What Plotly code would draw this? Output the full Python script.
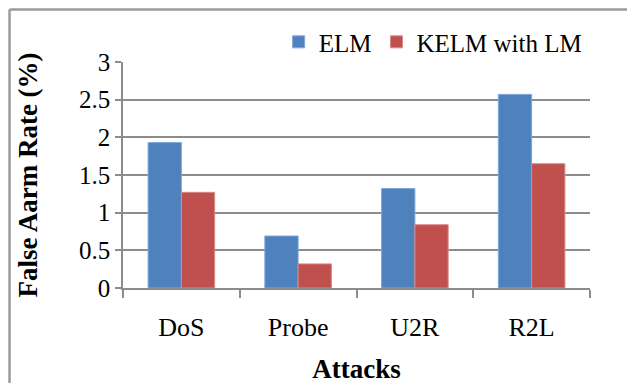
import plotly.graph_objects as go

categories = ["DoS", "Probe", "U2R", "R2L"]
elm = [1.93, 0.69, 1.32, 2.57]
kelm = [1.27, 0.32, 0.84, 1.65]
y_ticks = [0, 0.5, 1, 1.5, 2, 2.5, 3]
y_tick_labels = ["0", "0.5", "1", "1.5", "2", "2.5", "3"]

FONT = "Liberation Serif, Times New Roman, serif"
GRID = "#8c8c8c"

fig = go.Figure()
fig.add_trace(go.Bar(name="ELM", x=categories, y=elm,
                     marker=dict(color="#4F81BD", line=dict(color="#7ea6d8", width=1))))
fig.add_trace(go.Bar(name="KELM with LM", x=categories, y=kelm,
                     marker=dict(color="#C0504D", line=dict(color="#d98a88", width=1))))

fig.update_layout(
    width=635, height=383,
    margin=dict(l=115, r=53, t=54, b=103, autoexpand=False),
    paper_bgcolor="white", plot_bgcolor="white",
    barmode="group", bargap=0.43, bargroupgap=0,
    font=dict(family=FONT, color="black"),
    legend=dict(orientation="h", x=0.995, xanchor="right", y=1.088, yanchor="middle",
                font=dict(size=25, family=FONT), itemwidth=30, traceorder="normal",
                bgcolor="rgba(0,0,0,0)", tracegroupgap=0),
    showlegend=True,
)
fig.update_xaxes(
    type="category", showline=True, linecolor=GRID, linewidth=1.5, automargin=False,
    ticks="outside", tickson="boundaries", ticklen=8, tickcolor=GRID, tickwidth=1.5,
    tickfont=dict(size=26, family=FONT), ticklabelstandoff=15,
    title=dict(text="<b>Attacks</b>", font=dict(size=27, family=FONT), standoff=18),
    showgrid=False,
)
fig.update_yaxes(
    range=[0, 3], tickvals=y_ticks, ticktext=y_tick_labels,
    showline=True, linecolor=GRID, linewidth=1.5, automargin=False,
    ticks="outside", ticklen=6, tickcolor=GRID, tickwidth=1.5,
    showgrid=True, gridcolor=GRID, gridwidth=1.5, zeroline=False,
    tickfont=dict(size=25, family=FONT),
    title=dict(text="<b>False Aarm Rate (%)</b>", font=dict(size=27, family=FONT), standoff=34),
)

# outer frame (left and top border of the original image)
fig.add_shape(type="line", xref="paper", yref="paper", x0=-0.243, x1=-0.243, y0=-0.5, y1=1.232,
              line=dict(color="#9a9a9a", width=2.5))
fig.add_shape(type="line", xref="paper", yref="paper", x0=-0.243, x1=1.2, y0=1.232, y1=1.232,
              line=dict(color="#9a9a9a", width=2.5))

fig.write_html("out.html")
